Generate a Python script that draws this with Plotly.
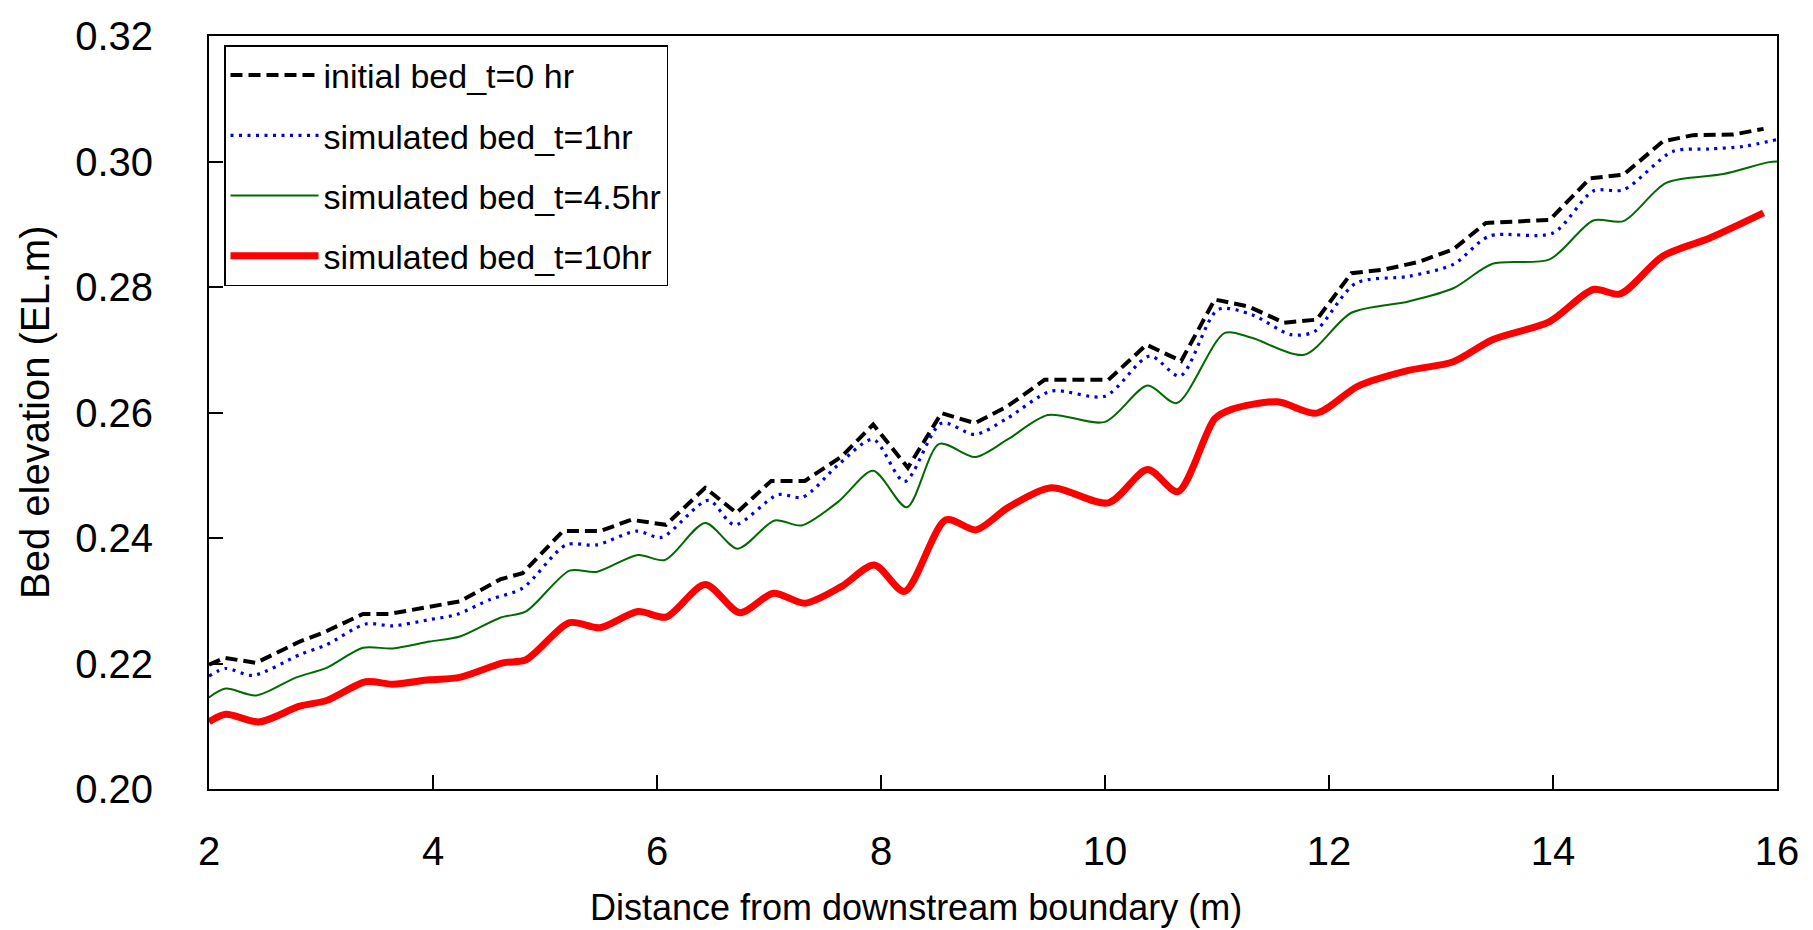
import plotly.graph_objects as go

# ---- data ----
x_t0 = [2.0, 2.14, 2.42, 2.81, 3.02, 3.375, 3.61, 3.97, 4.24, 4.60, 4.80, 5.16, 5.49, 5.77, 6.08,
        6.43, 6.71, 7.02, 7.32, 7.65, 7.93, 8.24, 8.54, 8.84, 9.13, 9.46, 10.03, 10.37, 10.68,
        10.98, 11.28, 11.60, 11.89, 12.20, 12.50, 12.80, 13.11, 13.40, 13.97, 14.33, 14.63,
        14.98, 15.25, 15.61, 15.88]
y_t0 = [0.2198, 0.2209, 0.2201, 0.2235, 0.2249, 0.2279, 0.2279, 0.2291, 0.2299, 0.2334, 0.2344,
        0.2411, 0.2411, 0.2429, 0.2421, 0.2480, 0.2440, 0.2491, 0.2491, 0.2530, 0.2581, 0.2512,
        0.2599, 0.2583, 0.2610, 0.2652, 0.2652, 0.2708, 0.2682, 0.2780, 0.2769, 0.2743, 0.2748,
        0.2822, 0.2828, 0.2840, 0.2860, 0.2902, 0.2907, 0.2973, 0.2979, 0.3032, 0.3042, 0.3043,
        0.3052]

x_t1 = [2.0, 2.15, 2.39, 2.81, 3.05, 3.40, 3.64, 3.97, 4.21, 4.51, 4.80, 5.19, 5.46, 5.82, 6.04,
        6.46, 6.69, 7.08, 7.30, 7.62, 7.93, 8.21, 8.54, 8.84, 9.13, 9.52, 10.0, 10.40, 10.67,
        11.01, 11.31, 11.66, 11.87, 12.24, 12.71, 13.11, 13.43, 14.0, 14.36, 14.63, 15.07,
        15.40, 15.70, 16.0]
y_t1 = [0.2180, 0.2192, 0.2181, 0.2214, 0.2230, 0.2263, 0.2260, 0.2270, 0.2278, 0.2302, 0.2320,
        0.2389, 0.2389, 0.2411, 0.2401, 0.2460, 0.2421, 0.2469, 0.2465, 0.2517, 0.2557, 0.2490,
        0.2583, 0.2565, 0.2591, 0.2634, 0.2626, 0.2690, 0.2658, 0.2764, 0.2756, 0.2724, 0.2729,
        0.2806, 0.2817, 0.2836, 0.2881, 0.2886, 0.2953, 0.2955, 0.3016, 0.3020, 0.3024, 0.3035]

x_t45 = [2.0, 2.15, 2.42, 2.78, 3.05, 3.375, 3.64, 3.97, 4.24, 4.60, 4.83, 5.22, 5.46, 5.83, 6.07,
         6.43, 6.72, 7.05, 7.29, 7.62, 7.93, 8.23, 8.52, 8.84, 9.13, 9.49, 10.0, 10.38, 10.64,
         11.07, 11.31, 11.78, 12.20, 12.71, 13.11, 13.46, 13.97, 14.36, 14.63, 15.01, 15.52,
         15.93, 16.0]
y_t45 = [0.2146, 0.2160, 0.2149, 0.2178, 0.2193, 0.2225, 0.2224, 0.2235, 0.2243, 0.2273, 0.2283,
         0.2348, 0.2346, 0.2373, 0.2365, 0.2424, 0.2383, 0.2428, 0.2420, 0.2458, 0.2507, 0.2449,
         0.2550, 0.2529, 0.2557, 0.2596, 0.2585, 0.2643, 0.2615, 0.2727, 0.2719, 0.2692, 0.2759,
         0.2777, 0.2798, 0.2837, 0.2844, 0.2906, 0.2905, 0.2966, 0.2980, 0.2999, 0.3000]

x_t10 = [2.0, 2.15, 2.45, 2.81, 3.05, 3.40, 3.64, 3.97, 4.24, 4.625, 4.83, 5.22, 5.49, 5.83, 6.08,
         6.43, 6.74, 7.04, 7.32, 7.65, 7.94, 8.21, 8.58, 8.85, 9.13, 9.52, 10.03, 10.38, 10.65,
         10.98, 11.13, 11.54, 11.89, 12.26, 12.71, 13.11, 13.46, 13.97, 14.36, 14.60, 14.98,
         15.40, 15.88]
y_t10 = [0.2107, 0.2119, 0.2107, 0.2132, 0.2141, 0.2171, 0.2167, 0.2174, 0.2178, 0.2201, 0.2206,
         0.2265, 0.2257, 0.2283, 0.2274, 0.2326, 0.2281, 0.2312, 0.2296, 0.2323, 0.2357, 0.2315,
         0.2429, 0.2413, 0.2448, 0.2480, 0.2456, 0.2509, 0.2474, 0.2590, 0.2605, 0.2617, 0.2599,
         0.2642, 0.2667, 0.2681, 0.2716, 0.2745, 0.2796, 0.2789, 0.2849, 0.2878, 0.2918]

names = ["initial bed_t=0 hr", "simulated bed_t=1hr", "simulated bed_t=4.5hr", "simulated bed_t=10hr"]

x_ticks = [2, 4, 6, 8, 10, 12, 14, 16]
y_ticks = [0.20, 0.22, 0.24, 0.26, 0.28, 0.30, 0.32]

x_title = "Distance from downstream boundary (m)"
y_title = "Bed elevation (EL.m)"

FONT = "Arial, Liberation Sans, sans-serif"

fig = go.Figure()
fig.add_trace(go.Scatter(x=x_t0, y=y_t0, mode="lines", name=names[0], legendgroup="a",
                         line=dict(color="black", width=4, dash="12px,6px", shape="linear")))
fig.add_trace(go.Scatter(x=x_t1, y=y_t1, mode="lines", name=names[1], legendgroup="b",
                         line=dict(color="#0000DD", width=3.2, dash="3px,5.5px", shape="spline", smoothing=0.8)))
fig.add_trace(go.Scatter(x=x_t45, y=y_t45, mode="lines", name=names[2], legendgroup="c",
                         line=dict(color="#006A00", width=2, shape="spline", smoothing=0.8)))
fig.add_trace(go.Scatter(x=x_t10, y=y_t10, mode="lines", name=names[3], legendgroup="d",
                         line=dict(color="#FF0000", width=7, shape="spline", smoothing=0.8)))

axis_common = dict(showgrid=False, zeroline=False, showline=True, linecolor="black", linewidth=2,
                   mirror=True, ticks="inside", ticklen=14, tickwidth=1.5, tickcolor="black",
                   tickfont=dict(family=FONT, size=40, color="black"))

fig.update_xaxes(range=[2, 16], tickvals=x_ticks, ticktext=[str(v) for v in x_ticks],
                 ticklabelstandoff=26, **axis_common)
fig.update_yaxes(range=[0.20, 0.32], tickvals=y_ticks, ticktext=[f"{v:.2f}" for v in y_ticks],
                 ticklabelstandoff=46, **axis_common)

fig.add_annotation(text=x_title, xref="paper", yref="paper", x=(908 - 201) / 1568, y=-(899 - 781) / 753,
                   xanchor="center", yanchor="middle", showarrow=False,
                   font=dict(family=FONT, size=36, color="black"))
fig.add_annotation(text=y_title, xref="paper", yref="paper", x=(27 - 201) / 1568, y=(781 - 404) / 753,
                   xanchor="center", yanchor="middle", showarrow=False, textangle=-90,
                   font=dict(family=FONT, size=40, color="black"))

fig.update_layout(
    width=1813, height=930,
    margin=dict(l=201, r=44, t=28, b=149, autoexpand=False),
    paper_bgcolor="white", plot_bgcolor="white",
    showlegend=True,
    legend=dict(x=(216 - 201) / 1568, y=1 - (37 - 28) / 753, xanchor="left", yanchor="top",
                bgcolor="white", bordercolor="black", borderwidth=1.5,
                font=dict(family=FONT, size=34, color="black"),
                traceorder="grouped", tracegroupgap=13, itemwidth=88),
)

fig.write_html("out.html")
